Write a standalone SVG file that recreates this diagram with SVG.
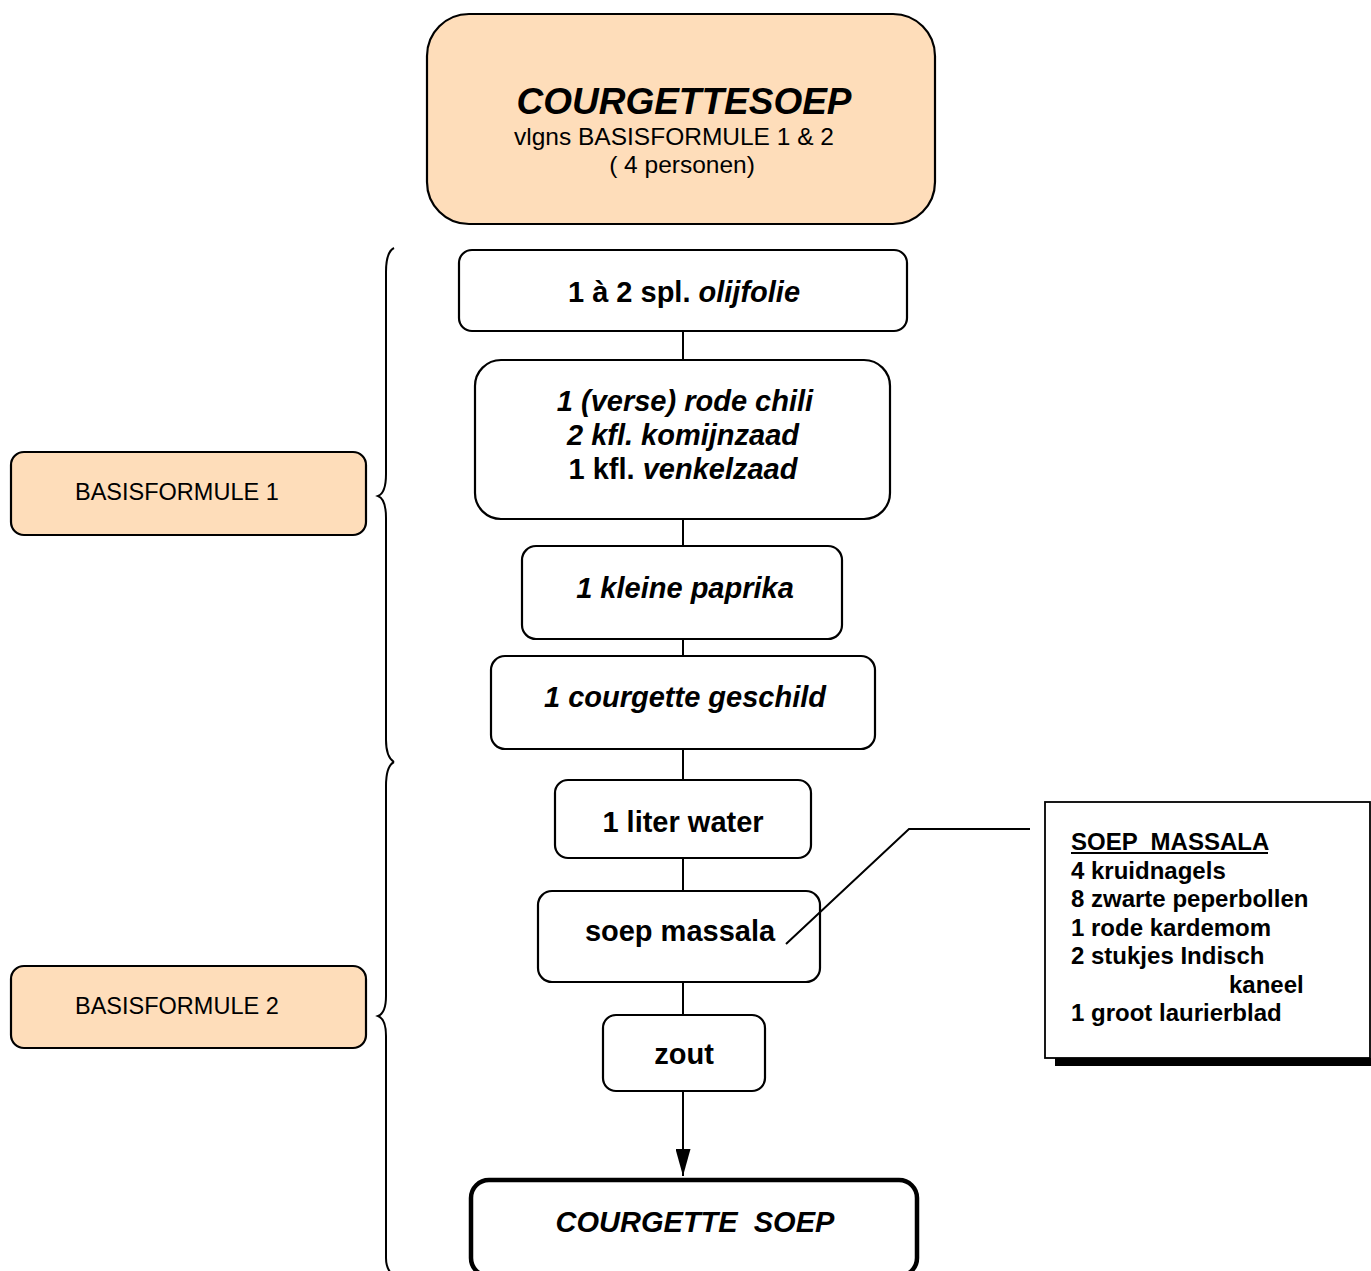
<svg xmlns="http://www.w3.org/2000/svg" width="1371" height="1271" viewBox="0 0 1371 1271">
<defs>
<marker id="arr" viewBox="0 0 27 15" refX="27" refY="7.5" markerWidth="27" markerHeight="15" markerUnits="userSpaceOnUse" orient="auto">
<path d="M0,0 L27,7.5 L0,15 Z" fill="#000"/>
</marker>
</defs>
<style>
.box{fill:#fff;stroke:#000;stroke-width:2.2}
.peach{fill:#FEDDBA;stroke:#000;stroke-width:2.2}
.t{font-family:"Liberation Sans",Arial,sans-serif;fill:#000;text-anchor:middle}
.b{font-weight:bold}
.i{font-style:italic}
.ln{stroke:#000;stroke-width:2;fill:none}
.s{font-family:"Liberation Sans",Arial,sans-serif;font-weight:bold;font-size:24px;fill:#000}
</style>
<rect width="1371" height="1271" fill="#fff"/>

<g id="braces">
<path class="ln" stroke-width="2.6" d="M394,248 Q386,252 386,272 L386,474 Q386,493 378,496 Q386,499 386,518 L386,740 Q386,757 394,762"/>
<path class="ln" stroke-width="2.6" d="M394,762 Q386,766 386,786 L386,996 Q386,1013 378,1016 Q386,1019 386,1036 L386,1258 Q386,1270 394,1276"/>
</g>

<g id="title">
<rect class="peach" x="427" y="14" width="508" height="210" rx="42"/>
<text class="t b i" x="684" y="114" font-size="37">COURGETTESOEP</text>
<text class="t" x="674" y="145" font-size="24.5">vlgns BASISFORMULE 1 &amp; 2</text>
<text class="t" x="682" y="173" font-size="24.5">( 4 personen)</text>
</g>

<g id="n1">
<rect class="box" x="459" y="250" width="448" height="81" rx="13"/>
<text class="t b" x="684" y="302" font-size="29">1 à 2 spl. <tspan class="i">olijfolie</tspan></text>
</g>

<g id="n2">
<rect class="box" x="475" y="360" width="415" height="159" rx="26"/>
<text class="t b i" x="685" y="411" font-size="29">1 (verse) rode chili</text>
<text class="t b i" x="683" y="445" font-size="29">2 kfl. komijnzaad</text>
<text class="t b" x="683" y="479" font-size="29">1 kfl. <tspan class="i">venkelzaad</tspan></text>
</g>

<g id="n3">
<rect class="box" x="522" y="546" width="320" height="93" rx="14"/>
<text class="t b i" x="685" y="598" font-size="29">1 kleine paprika</text>
</g>

<g id="n4">
<rect class="box" x="491" y="656" width="384" height="93" rx="14"/>
<text class="t b i" x="685" y="707" font-size="29">1 courgette geschild</text>
</g>

<g id="n5">
<rect class="box" x="555" y="780" width="256" height="78" rx="13"/>
<text class="t b" x="683" y="832" font-size="29">1 liter water</text>
</g>

<g id="n6">
<rect class="box" x="538" y="891" width="282" height="91" rx="14"/>
<text class="t b" x="680" y="941" font-size="29">soep massala</text>
</g>

<g id="n7">
<rect class="box" x="603" y="1015" width="162" height="76" rx="13"/>
<text class="t b" x="684" y="1064" font-size="29">zout</text>
</g>

<g id="result">
<rect x="471" y="1180" width="446" height="96" rx="18" fill="#fff" stroke="#000" stroke-width="4.5"/>
<text class="t b i" x="695" y="1232" font-size="29" xml:space="preserve">COURGETTE  SOEP</text>
</g>

<g id="basis1">
<rect class="peach" x="11" y="452" width="355" height="83" rx="13"/>
<text x="75" y="500" font-family="Liberation Sans,Arial,sans-serif" font-size="23.5" fill="#000">BASISFORMULE 1</text>
</g>

<g id="basis2">
<rect class="peach" x="11" y="966" width="355" height="82" rx="13"/>
<text x="75" y="1014" font-family="Liberation Sans,Arial,sans-serif" font-size="23.5" fill="#000">BASISFORMULE 2</text>
</g>

<g id="massala">
<rect x="1055" y="1058" width="320" height="8" fill="#000"/>
<rect x="1045" y="802" width="325" height="256" fill="#fff" stroke="#000" stroke-width="1.8"/>
<text class="s" x="1071" y="850" xml:space="preserve">SOEP  MASSALA</text>
<line x1="1071" y1="853" x2="1268" y2="853" stroke="#000" stroke-width="2"/>
<text class="s" x="1071" y="879">4 kruidnagels</text>
<text class="s" x="1071" y="907">8 zwarte peperbollen</text>
<text class="s" x="1071" y="936">1 rode kardemom</text>
<text class="s" x="1071" y="964">2 stukjes Indisch</text>
<text class="s" x="1229" y="993">kaneel</text>
<text class="s" x="1071" y="1021">1 groot laurierblad</text>
</g>

<g id="connectors">
<line class="ln" x1="683" y1="331" x2="683" y2="360"/>
<line class="ln" x1="683" y1="519" x2="683" y2="546"/>
<line class="ln" x1="683" y1="639" x2="683" y2="656"/>
<line class="ln" x1="683" y1="749" x2="683" y2="780"/>
<line class="ln" x1="683" y1="858" x2="683" y2="891"/>
<line class="ln" x1="683" y1="982" x2="683" y2="1015"/>
<line class="ln" x1="683" y1="1091" x2="683" y2="1176" marker-end="url(#arr)"/>
<polyline class="ln" points="786,944 909,829 1030,829"/>
</g>
</svg>
